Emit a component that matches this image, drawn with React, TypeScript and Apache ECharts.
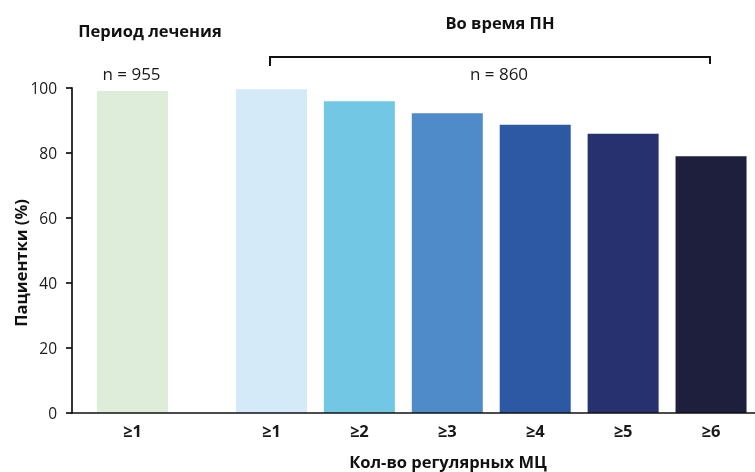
import React, { useEffect, useRef } from "react";
import * as echarts from "echarts";

const periodCategories = ["≥1"];
const periodValues = [99.1];
const duringCategories = ["≥1", "≥2", "≥3", "≥4", "≥5", "≥6"];
const duringValues = [99.6, 95.9, 92.2, 88.7, 85.9, 79.0];
const yTicks = [0, 20, 40, 60, 80, 100];
const periodColors = ["#deedda"];
const duringColors = ["#d4eaf9", "#72c8e4", "#4e8bc8", "#2d59a4", "#28316f", "#1d1f3d"];
const titleLeft = "Период лечения";
const titleRight = "Во время ПН";
const nLeft = "n = 955";
const nRight = "n = 860";
const yName = "Пациентки (%)";
const xName = "Кол-во регулярных МЦ";

const FONT = "'Open Sans', 'Noto Sans', sans-serif";

const G0 = { left: 72, top: 88, width: 121, height: 325 };
const G1 = { left: 227.5, top: 88, width: 528, height: 325 };
const Y_MIN = yTicks[0];
const Y_MAX = yTicks[yTicks.length - 1];

const mkXLabel = () => ({ fontFamily: FONT, fontSize: 16.5, fontWeight: "bold", color: "#1a1a1a", margin: 9 });

export default function App() {
  const ref = useRef<HTMLDivElement>(null);
  useEffect(() => {
    if (!ref.current) return;
    const chart = echarts.init(ref.current, null, { renderer: "svg" });
    const band = G1.width / duringCategories.length;
    const firstX = G1.left + band / 2;
    const lastX = G1.left + band * (duringCategories.length - 0.5);
    const leftX = G0.left + G0.width / 2;
    const baseY = G0.top + G0.height;
    const yPix = (v: number) => baseY - ((v - Y_MIN) / (Y_MAX - Y_MIN)) * G0.height;
    const bracketY = 57;
    const bold = { fontFamily: FONT, fontSize: 16.5, fontWeight: "bold", fill: "#111" };
    const normal = { fontFamily: FONT, fontSize: 17, fill: "#1a1a1a" };
    const lw = 1.7;
    chart.setOption({
      animation: false,
      grid: [G0, G1],
      xAxis: [
        { type: "category", gridIndex: 0, data: periodCategories, axisLine: { show: false }, axisTick: { show: false }, axisLabel: mkXLabel() },
        { type: "category", gridIndex: 1, data: duringCategories, axisLine: { show: false }, axisTick: { show: false }, axisLabel: mkXLabel() },
      ],
      yAxis: [
        {
          type: "value", gridIndex: 0, min: Y_MIN, max: Y_MAX, interval: 20,
          axisLine: { show: false }, axisTick: { show: false },
          splitLine: { show: false },
          axisLabel: { fontFamily: FONT, fontSize: 15.5, color: "#1a1a1a", margin: 15 },
        },
        { type: "value", gridIndex: 1, min: Y_MIN, max: Y_MAX, interval: 20, show: false, splitLine: { show: false } },
      ],
      series: [
        {
          type: "bar", xAxisIndex: 0, yAxisIndex: 0, barWidth: 71,
          data: periodValues.map((v, i) => ({ value: v, itemStyle: { color: periodColors[i] } })),
        },
        {
          type: "bar", xAxisIndex: 1, yAxisIndex: 1, barWidth: 71,
          data: duringValues.map((v, i) => ({ value: v, itemStyle: { color: duringColors[i] } })),
        },
      ],
      graphic: [
        {
          type: "rect", z: 100,
          shape: { x: G0.left - lw / 2, y: baseY - lw / 2, width: G1.left + G1.width - G0.left + lw, height: lw },
          style: { fill: "#111" },
        },
        {
          type: "rect", z: 100,
          shape: { x: G0.left - lw / 2, y: yPix(Y_MAX) - lw / 2, width: lw, height: yPix(Y_MIN) - yPix(Y_MAX) + lw },
          style: { fill: "#111" },
        },
        ...yTicks.map((v) => ({
          type: "rect", z: 100,
          shape: { x: G0.left - 6, y: yPix(v) - lw / 2, width: 6, height: lw },
          style: { fill: "#111" },
        })),
        {
          type: "polyline",
          shape: { points: [[firstX - 1.5, 66], [firstX - 1.5, bracketY], [lastX - 1.5, bracketY], [lastX - 1.5, 64]] },
          style: { stroke: "#111", lineWidth: 2, fill: null },
        },
        { type: "text", x: 20, y: 263, rotation: Math.PI / 2, style: { ...bold, text: yName, align: "center", verticalAlign: "middle" } },
        { type: "text", x: 150, y: 30, style: { ...bold, text: titleLeft, align: "center", verticalAlign: "middle" } },
        { type: "text", x: 500, y: 22, style: { ...bold, text: titleRight, align: "center", verticalAlign: "middle" } },
        { type: "text", x: leftX - 1, y: 73, style: { ...normal, text: nLeft, align: "center", verticalAlign: "middle" } },
        { type: "text", x: 499, y: 73, style: { ...normal, text: nRight, align: "center", verticalAlign: "middle" } },
        { type: "text", x: 448, y: 461, style: { ...bold, text: xName, align: "center", verticalAlign: "middle" } },
      ],
    });
    return () => chart.dispose();
  }, []);
  return <div ref={ref} style={{ position: "fixed", left: 0, top: 0, width: 755, height: 472 }} />;
}
